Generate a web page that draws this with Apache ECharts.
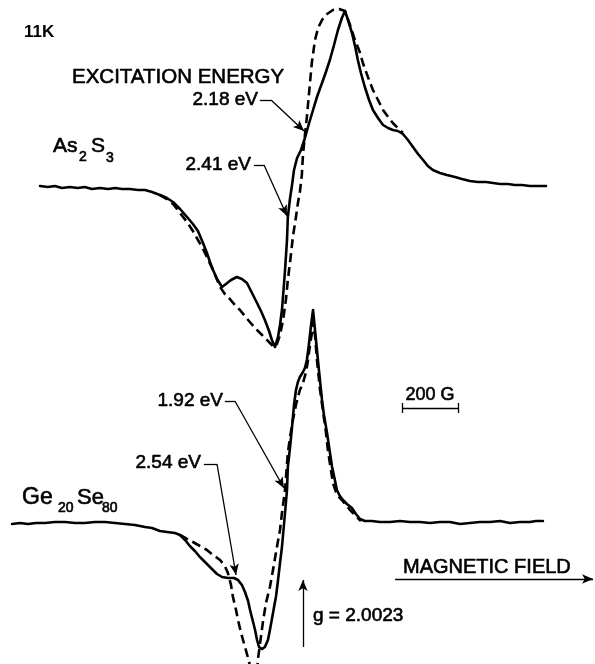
<!DOCTYPE html>
<html>
<head>
<meta charset="utf-8">
<script src="https://cdn.jsdelivr.net/npm/echarts@6/dist/echarts.min.js"></script>
<style>
html,body{margin:0;padding:0;background:#ffffff;}
#chart{width:595px;height:664px;}
</style>
</head>
<body>
<div id="chart"></div>
<script>
// ---- Data: ESR derivative spectra at 11 K (field offset in gauss from g = 2.0023; signal in arb. units) ----
// As2S3, excitation 2.41 eV (solid)
const fieldAs2S3_241 = [-939,-911,-886,-861,-832,-804,-779,-754,-725,-696,
  -671,-646,-618,-589,-564,-539,-511,-486,-464,-439,
  -414,-393,-375,-357,-343,-332,-321,-307,-289,-275,
  -257,-236,-218,-200,-182,-164,-150,-136,-121,-111,
  -100,-89,-82,-75,-68,-64,-57,-54,-46,-39,
  -32,-21,-7,7,21,36,50,68,82,96,
  111,125,139,150,161,175,186,196,207,221,
  236,250,268,286,304,321,339,357,375,393,
  411,429,446,464,489,514,543,568,596,625,
  654,679,704,732,757,782,811,839,868];
const signalAs2S3_241 = [1,0,1,-1,0,-1,0,-2,-1,-2,
  -1,-2,-2,-3,-3,-5,-8,-11,-15,-22,
  -30,-37,-44,-56,-66,-75,-83,-92,-100,-97,
  -93,-90,-92,-96,-106,-116,-124,-133,-144,-153,
  -160,-150,-138,-123,-98,-83,-53,-30,-11,2,
  17,29,37,49,63,77,90,104,115,127,
  142,157,169,176,167,154,141,127,114,100,
  87,77,69,62,59,57,56,53,47,40,
  33,27,21,17,14,12,10,8,6,5,
  5,4,3,3,2,2,1,1,1];
// As2S3, excitation 2.18 eV (dashed)
const fieldAs2S3_218 = [-511,-486,-464,-439,-414,-393,-375,-357,-343,-318,
  -296,-279,-261,-243,-225,-196,-164,-139,-118,-104,
  -93,-82,-71,-61,-54,-46,-36,-25,-18,-11,
  -4,0,7,14,25,32,43,54,68,86,
  107,129,150,168,182,193,204,214,232,250,
  268,286,304,321,339,357];
const signalAs2S3_218 = [-8,-12,-17,-26,-35,-44,-53,-62,-70,-85,
  -100,-107,-112,-118,-123,-133,-143,-150,-156,-160,
  -157,-148,-133,-113,-93,-75,-50,-30,-16,-5,
  12,32,52,70,104,125,147,159,167,173,
  177,178,176,162,150,142,134,124,110,97,
  87,77,70,64,59,54];
// Ge20Se80, excitation 2.54 eV (solid)
const fieldGeSe_254 = [-1039,-1011,-982,-954,-921,-886,-850,-814,-779,-743,
  -707,-671,-636,-600,-564,-539,-511,-486,-457,-439,
  -421,-404,-386,-368,-350,-325,-307,-289,-268,-246,
  -232,-218,-207,-196,-189,-179,-171,-164,-157,-146,
  -136,-125,-118,-107,-96,-89,-82,-75,-68,-64,
  -57,-54,-46,-39,-32,-25,-18,-11,0,7,
  14,21,29,36,43,50,57,68,75,86,
  96,104,114,121,132,143,157,175,189,204,
  221,246,275,311,346,382,418,454,489,525,
  561,596,632,668,704,739,775,811,832,857];
const signalGeSe_254 = [0,1,0,1,1,2,2,1,1,2,
  2,1,0,-1,-3,-4,-7,-8,-9,-11,
  -16,-22,-27,-33,-38,-45,-50,-53,-54,-54,
  -56,-61,-68,-77,-86,-97,-106,-116,-123,-125,
  -123,-116,-106,-89,-72,-56,-39,-23,-1,11,
  34,57,77,97,119,134,142,147,152,156,
  164,179,199,214,194,174,154,124,109,91,
  72,57,44,34,28,24,20,16,10,5,
  3,3,2,2,3,2,2,1,2,2,
  0,1,2,2,3,1,2,2,3,3];
// Ge20Se80, excitation 1.92 eV (dashed)
const fieldGeSe_192 = [-439,-414,-393,-368,-343,-321,-296,-279,-268,-257,
  -250,-239,-232,-221,-207,-196,-189,-182,-171,-164,
  -161,-154,-143,-132,-118,-107,-93,-82,-75,-64,
  -54,-46,-36,-25,-18,-11,0,11,18,25,
  32,36,43,50,61,71,82,89,100,107,
  118,129,139,154,168,182,196,207];
const signalGeSe_192 = [-11,-15,-18,-22,-26,-31,-36,-42,-49,-61,
  -73,-86,-96,-109,-123,-134,-142,-152,-156,-148,
  -136,-121,-98,-79,-63,-46,-23,-6,11,34,
  71,87,104,119,127,134,141,152,164,179,
  191,202,189,164,134,114,92,74,54,41,
  32,27,24,19,14,10,6,3];
const scaleBarGauss = 200;

// ---- Build ----
function zip(xs, ys){ return xs.map((x,i)=>[x, ys[i]]); }
const FONT = '"Liberation Sans", Arial, Helvetica, sans-serif';
const X_MIN = -1082, X_MAX = 1043;

function seg(a, b, arrow){
  return [
    {coord:a, symbol:'none'},
    {coord:b, symbol: arrow ? 'arrow' : 'none', symbolSize: arrow ? [7,11] : 0}
  ];
}
const markStyle = {color:'#000', width:1.3, type:'solid'};

function lineSeries(name, data, xi, dashed, marks){
  const s = {
    name, type:'line', data, xAxisIndex:xi, yAxisIndex:xi,
    showSymbol:false, symbol:'none', smooth:false, silent:true, animation:false,
    lineStyle:{color:'#000', width:2.6, type: dashed ? [9,5] : 'solid', join:'round', cap: dashed ? 'butt' : 'round'}
  };
  if (marks) {
    s.markLine = {silent:true, animation:false, symbol:['none','none'], label:{show:false},
      lineStyle:markStyle, emphasis:{disabled:true}, data:marks};
  }
  return s;
}

const barStart = 354, barEnd = barStart + scaleBarGauss;

const option = {
  backgroundColor:'#ffffff',
  animation:false,
  grid:[
    {left:0, right:0, top:0, bottom:0},
    {left:0, right:0, top:0, bottom:0}
  ],
  xAxis:[
    {type:'value', gridIndex:0, min:X_MIN, max:X_MAX, show:false},
    {type:'value', gridIndex:1, min:X_MIN, max:X_MAX, show:false}
  ],
  yAxis:[
    {type:'value', gridIndex:0, min:-477, max:187, show:false},
    {type:'value', gridIndex:1, min:-140, max:524, show:false}
  ],
  series:[
    lineSeries('As2S3 2.41 eV', zip(fieldAs2S3_241, signalAs2S3_241), 0, false, [
      seg([-154,87],[-114,87],false), seg([-114,87],[4,56],true),
      seg([-175,22],[-139,22],false), seg([-139,22],[-57,-29],true)
    ]),
    lineSeries('As2S3 2.18 eV', zip(fieldAs2S3_218, signalAs2S3_218), 0, true),
    lineSeries('Ge20Se80 2.54 eV', zip(fieldGeSe_254, signalGeSe_254), 1, false, [
      seg([-279,123],[-243,123],false), seg([-243,123],[-68,36],true),
      seg([-354,60],[-307,60],false), seg([-307,60],[-239,-51],true),
      seg([barStart,116],[barEnd,116],false),
      seg([barStart,121],[barStart,111],false),
      seg([barEnd,121],[barEnd,111],false),
      seg([329,-55],[1036,-55],true),
      seg([0,-123],[0,-56],true)
    ]),
    lineSeries('Ge20Se80 1.92 eV', zip(fieldGeSe_192, signalGeSe_192), 1, true)
  ],
  graphic:[]
};

function txt(text, x, y, size, align, weight){
  return {type:'text', x, y, silent:true,
    style:{text, font:(weight||'normal')+' '+size+'px '+FONT, fill:'#000',
      stroke:'#000', lineWidth: weight === 'bold' ? 0 : 0.6,
      align:align||'left', verticalAlign:'middle', textAlign:align||'left', textVerticalAlign:'middle'}};
}
option.graphic = [
  txt('11K', 24, 32, 17, 'left', 'bold'),
  txt('EXCITATION ENERGY', 72, 77, 20.5),
  txt('2.18 eV', 258, 100, 19, 'right'),
  txt('2.41 eV', 251, 165, 19, 'right'),
  txt('As', 53, 146, 21),
  txt('2', 79, 157, 14),
  txt('S', 91, 146, 21),
  txt('3', 106, 158, 14),
  txt('1.92 eV', 223, 401, 19, 'right'),
  txt('2.54 eV', 201, 463, 19, 'right'),
  txt('Ge', 22, 498, 23),
  txt('20', 58, 508, 14),
  txt('Se', 77, 498, 22),
  txt('80', 102, 508, 14),
  txt(scaleBarGauss + ' G', 430, 395, 18, 'center'),
  txt('MAGNETIC FIELD', 403, 567, 20),
  txt('g = 2.0023', 313, 616, 19)
];

const chart = echarts.init(document.getElementById('chart'), null, {renderer:'canvas'});
chart.setOption(option);
</script>
</body>
</html>
